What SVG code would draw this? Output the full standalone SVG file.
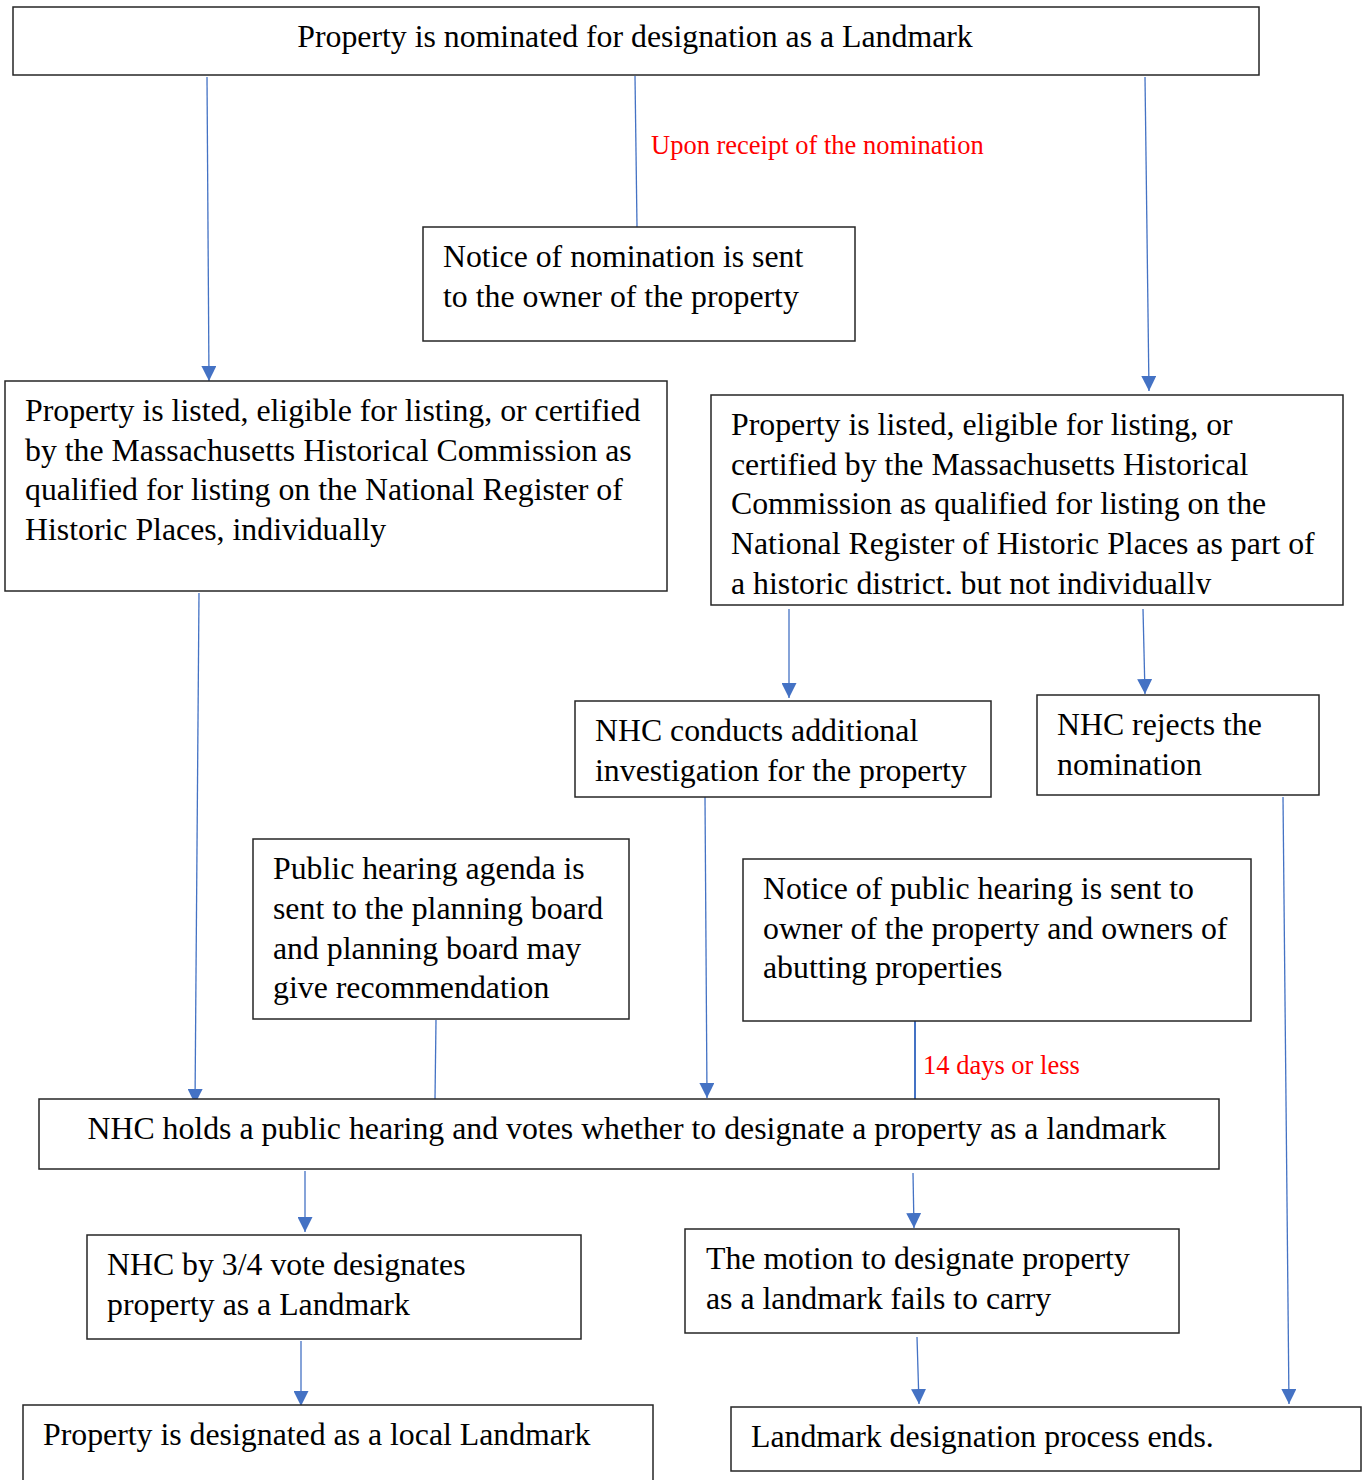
<svg xmlns="http://www.w3.org/2000/svg" width="1367" height="1480" viewBox="0 0 1367 1480">
<style>
.box{fill:#fff;stroke:#262626;stroke-width:1.5}
.t{font-family:"Liberation Serif","Times New Roman",serif;font-size:31.8px;fill:#000}
.r{font-family:"Liberation Serif","Times New Roman",serif;font-size:26.5px;fill:#ff0000}
.c{stroke:#4472C4;stroke-width:1.3;fill:none}
.ca{stroke:#4472C4;stroke-width:1.3;fill:none;marker-end:url(#ah)}
</style>
<defs>
<marker id="ah" viewBox="0 0 10 10" refX="10" refY="5" markerUnits="userSpaceOnUse" markerWidth="15" markerHeight="15" orient="auto">
<path d="M0,0 L10,5 L0,10 z" fill="#4472C4"/>
</marker>
<clipPath id="clipR"><rect x="711" y="395" width="632" height="199"/></clipPath>
</defs>
<rect width="1367" height="1480" fill="#fff"/>
<g id="connectors">
<line class="ca" x1="207" y1="77" x2="209" y2="381"/>
<line class="c" x1="635" y1="76" x2="637" y2="227"/>
<line class="ca" x1="1145" y1="77" x2="1149" y2="391"/>
<line class="ca" x1="199" y1="593" x2="195" y2="1104"/>
<line class="ca" x1="789" y1="609" x2="789" y2="698"/>
<line class="ca" x1="1143" y1="609" x2="1145" y2="694"/>
<line class="c" x1="436" y1="1020" x2="435" y2="1099"/>
<line class="ca" x1="705" y1="797" x2="707" y2="1098"/>
<line class="c" x1="915" y1="1021" x2="915" y2="1099" style="stroke-width:2"/>
<line class="ca" x1="1283" y1="797" x2="1289" y2="1404"/>
<line class="ca" x1="305" y1="1171" x2="305" y2="1232"/>
<line class="ca" x1="913" y1="1173" x2="914" y2="1228"/>
<line class="ca" x1="301" y1="1341" x2="301" y2="1406"/>
<line class="ca" x1="917" y1="1337" x2="919" y2="1404"/>
<text class="r" x="651" y="154">Upon receipt of the nomination</text>
<text class="r" x="923" y="1074">14 days or less</text>
</g>
<g id="n1">
<rect class="box" x="13" y="7" width="1246" height="68"/>
<text class="t" x="635" y="47" text-anchor="middle">Property is nominated for designation as a Landmark</text>
</g>
<g id="n2">
<rect class="box" x="423" y="227" width="432" height="114"/>
<text class="t" x="443" y="267">Notice of nomination is sent</text>
<text class="t" x="443" y="307">to the owner of the property</text>
</g>
<g id="n3">
<rect class="box" x="5" y="381" width="662" height="210"/>
<text class="t" x="25" y="421">Property is listed, eligible for listing, or certified</text>
<text class="t" x="25" y="461">by the Massachusetts Historical Commission as</text>
<text class="t" x="25" y="500">qualified for listing on the National Register of</text>
<text class="t" x="25" y="540">Historic Places, individually</text>
</g>
<g id="n4">
<rect class="box" x="711" y="395" width="632" height="210"/>
<g clip-path="url(#clipR)">
<text class="t" x="731" y="435">Property is listed, eligible for listing, or</text>
<text class="t" x="731" y="475">certified by the Massachusetts Historical</text>
<text class="t" x="731" y="514">Commission as qualified for listing on the</text>
<text class="t" x="731" y="554">National Register of Historic Places as part of</text>
<text class="t" x="731" y="594">a historic district, but not individually</text>
</g>
</g>
<g id="n5">
<rect class="box" x="575" y="701" width="416" height="96"/>
<text class="t" x="595" y="741">NHC conducts additional</text>
<text class="t" x="595" y="781">investigation for the property</text>
</g>
<g id="n6">
<rect class="box" x="1037" y="695" width="282" height="100"/>
<text class="t" x="1057" y="735">NHC rejects the</text>
<text class="t" x="1057" y="775">nomination</text>
</g>
<g id="n7">
<rect class="box" x="253" y="839" width="376" height="180"/>
<text class="t" x="273" y="879">Public hearing agenda is</text>
<text class="t" x="273" y="919">sent to the planning board</text>
<text class="t" x="273" y="959">and planning board may</text>
<text class="t" x="273" y="998">give recommendation</text>
</g>
<g id="n8">
<rect class="box" x="743" y="859" width="508" height="162"/>
<text class="t" x="763" y="899">Notice of public hearing is sent to</text>
<text class="t" x="763" y="939">owner of the property and owners of</text>
<text class="t" x="763" y="978">abutting properties</text>
</g>
<g id="n9">
<rect class="box" x="39" y="1099" width="1180" height="70"/>
<text class="t" x="627" y="1139" text-anchor="middle">NHC holds a public hearing and votes whether to designate a property as a landmark</text>
</g>
<g id="n10">
<rect class="box" x="87" y="1235" width="494" height="104"/>
<text class="t" x="107" y="1275">NHC by 3/4 vote designates</text>
<text class="t" x="107" y="1315">property as a Landmark</text>
</g>
<g id="n11">
<rect class="box" x="685" y="1229" width="494" height="104"/>
<text class="t" x="706" y="1269">The motion to designate property</text>
<text class="t" x="706" y="1309">as a landmark fails to carry</text>
</g>
<g id="n12">
<rect class="box" x="23" y="1405" width="630" height="90"/>
<text class="t" x="43" y="1445">Property is designated as a local Landmark</text>
</g>
<g id="n13">
<rect class="box" x="731" y="1407" width="630" height="64"/>
<text class="t" x="751" y="1447">Landmark designation process ends.</text>
</g>
</svg>
